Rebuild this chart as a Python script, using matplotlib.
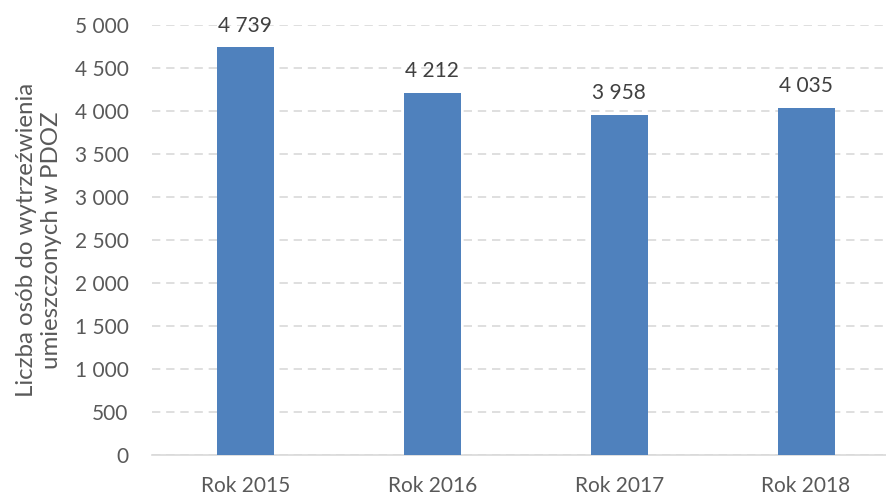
import matplotlib
matplotlib.use("Agg")
import matplotlib.pyplot as plt
from matplotlib.ticker import FuncFormatter

# === DATA ===
categories = ["Rok 2015", "Rok 2016", "Rok 2017", "Rok 2018"]
values = [4739, 4212, 3958, 4035]
y_ticks = [0, 500, 1000, 1500, 2000, 2500, 3000, 3500, 4000, 4500, 5000]
y_label = "Liczba osób do wytrzeźwienia\numieszczonych w PDOZ"

BAR_COLOR = "#4F81BD"
TICK_COLOR = "#595959"
LABEL_COLOR = "#404040"
GRID_COLOR = "#D9D9D9"
FS = 15

plt.rcParams["font.family"] = ["Lato", "DejaVu Sans"]


def fmt_space(v, _pos=None):
    return f"{int(round(v)):,}".replace(",", " ")


def main():
    W, H = 887, 498
    fig = plt.figure(figsize=(W / 100, H / 100), dpi=100)
    # plot area: left edge ~152px, zero line ~455px, 5000 line ~25px
    ax = fig.add_axes([152 / W, (H - 455.3) / H, 747.5 / W, 430.3 / H])

    x = range(len(categories))
    bars = ax.bar(x, values, width=0.305, color=BAR_COLOR, zorder=3)

    ax.set_xlim(-0.5, len(categories) - 0.5)
    ax.set_ylim(0, 5000)
    ax.set_yticks(y_ticks)
    ax.yaxis.set_major_formatter(FuncFormatter(fmt_space))
    ax.set_xticks(list(x))
    ax.set_xticklabels(categories)

    ax.grid(axis="y", color=GRID_COLOR, linestyle=(0, (5, 3.5)), linewidth=1.2, zorder=0)
    for s in ("left", "right", "top"):
        ax.spines[s].set_visible(False)
    ax.spines["bottom"].set_color(GRID_COLOR)
    ax.spines["bottom"].set_linewidth(1.2)

    ax.tick_params(axis="y", length=0, pad=17, labelsize=FS, labelcolor=TICK_COLOR)
    ax.tick_params(axis="x", length=0, pad=15, labelsize=FS, labelcolor=TICK_COLOR)

    for b, v in zip(bars, values):
        ax.annotate(fmt_space(v), (b.get_x() + b.get_width() / 2, v),
                    xytext=(0, 8.5), textcoords="offset points",
                    ha="center", va="bottom", fontsize=FS, color=LABEL_COLOR)

    fig.text(39 / W, 1 - 240 / H, y_label, rotation=90, ha="center", va="center",
             multialignment="center", fontsize=17.3, color=TICK_COLOR, linespacing=1.2)

    fig.savefig("out.png", dpi=100)


if __name__ == "__main__":
    main()
